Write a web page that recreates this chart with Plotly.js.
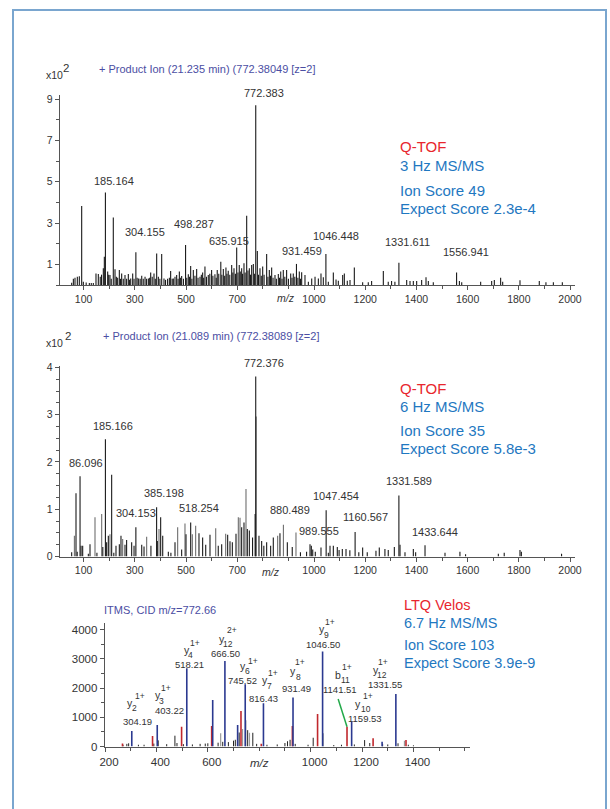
<!DOCTYPE html>
<html>
<head>
<meta charset="utf-8">
<script src="https://cdn.plot.ly/plotly-3.0.1.min.js"></script>
<style>html,body{margin:0;padding:0;background:#fff}#chart{width:610px;height:809px}</style>
</head>
<body>
<div id="chart"></div>
<script>
// ---------------- DATA ----------------
// Panel 1: Q-TOF 3 Hz (intensity x10^2)
const qtof3Mz = [53.4,60,66.4,75.5,83.3,92.5,99,122.4,138,148.4,157.5,177,181,185.164,194,203,216,222.7,239.6,248.7,261.7,274.7,284,291.7,304.155,315,327,340,353,362,375,385.4,405,414,440,450.5,463.5,474,483,498.287,509,518.2,528.6,541.6,554.7,565,574,587,600,613,622,635.915,645.8,656,665,678.4,687.5,698,708,717.4,726.5,737,747.4,756.5,763,772.383,778.6,789,799.5,815,825.5,834.6,847.6,860.6,870,880,893,909,919,931.459,942.6,951.8,964.8,978,991,1004,1017,1027.3,1036.4,1046.448,1056,1075.5,1086,1095,1112,1118.5,1130,1140.6,1157.5,1190,1212,1225,1270.8,1290,1303,1316,1331.611,1362,1375,1388,1401,1420.5,1437.5,1446.6,1466,1556.941,1568,1577,1651,1694,1704.4,1729,1737,1804.6,1880,1906,1935,1970,
  110,130,165,170,198,208,228,233,244,255,268,279,297,309,321,333,346,358,368,380,392,398,420,428,435,446,457,469,478,490,503,514,523,535,547,560,569,580,593,605,618,628,640,651,660,671,683,693,703,712,721,731,742,752,768,783,794,805,820,830,840,853,865,875,886,900,914,925,937,947];
const qtof3Int = [0.11,0.3,0.35,0.4,0.42,3.82,0.16,0.1,0.1,0.56,0.53,0.81,1.37,4.48,0.65,0.48,3.27,0.76,0.73,0.56,0.48,0.53,0.32,0.56,1.58,0.32,0.45,0.4,0.32,0.6,0.56,1.53,1.5,0.32,0.68,0.32,0.48,0.65,0.44,1.94,0.52,0.92,0.73,0.77,0.4,0.6,0.89,0.48,0.73,0.52,0.73,1.13,0.77,0.85,0.69,0.97,0.81,1.82,0.97,0.81,1.05,3.35,0.81,0.97,1.02,8.7,1.65,0.81,0.89,1.5,0.73,0.85,0.48,0.53,0.65,0.73,0.73,0.56,0.56,1.02,0.65,0.62,0.48,0.16,0.32,0.4,0.32,0.56,0.37,1.5,0.16,0.61,0.27,0.2,0.48,0.56,0.2,0.24,0.85,0.13,0.13,0.19,0.68,0.16,0.19,0.16,1.08,0.24,0.19,0.19,0.19,0.24,0.37,0.19,0.13,0.61,0.19,0.13,0.16,0.19,0.24,0.35,0.16,0.23,0.19,0.13,0.13,0.13,
  0.12,0.1,0.4,0.5,0.5,0.3,0.4,0.35,0.3,0.3,0.3,0.25,0.3,0.35,0.3,0.3,0.3,0.35,0.4,0.3,0.4,0.3,0.25,0.3,0.35,0.3,0.4,0.3,0.35,0.3,0.35,0.4,0.3,0.45,0.35,0.5,0.35,0.4,0.55,0.45,0.35,0.55,0.5,0.45,0.55,0.5,0.6,0.55,0.6,0.65,0.55,0.6,0.7,0.5,0.55,0.5,0.45,0.5,0.4,0.45,0.35,0.3,0.35,0.3,0.4,0.3,0.35,0.4,0.35,0.3];
const qtof3LabelMz = [185.164,304.155,498.287,635.915,772.383,931.459,1046.448,1331.611,1556.941];
const qtof3LabelText = ['185.164','304.155','498.287','635.915','772.383','931.459','1046.448','1331.611','1556.941'];

// Panel 2: Q-TOF 6 Hz (intensity x10^2), dark and light peaks
const qtof6Mz = [53.4,70.3,75,86.096,90,96.4,118.5,125,152,175,185.166,190,196.6,209.6,218,226.5,239.6,246,261.7,268,287.7,297,304.153,327,336,363,385.198,388,401,409,431,441,457,483,500,518.254,550.7,565,577,593.7,626,639.3,662.7,671.8,681,695.3,717.4,726.5,739.5,747.4,760,770,772.376,785,795.5,804,815,830.6,841,867,895.8,915,947,971,984.4,989.555,995,1005,1027.3,1047.454,1056,1062.5,1075.5,1091,1098,1110.6,1125,1140,1160.567,1175,1190,1208,1242,1255,1277,1290,1313.8,1331.589,1336,1355.4,1388,1397,1433.644,1511.7,1570,1592,1720,1743,1804.6,1810,1967];
const qtof6Int = [0.09,1.34,0.1,1.7,0.23,0.23,0.06,0.26,0.08,0.2,2.48,0.3,0.44,1.73,0.08,0.23,0.26,0.44,0.25,0.35,0.3,0.23,0.62,0.25,0.21,0.23,1.04,0.33,0.83,0.44,0.1,0.08,0.3,0.15,0.47,0.72,0.49,0.4,0.25,0.46,0.23,0.26,0.46,0.32,0.3,0.48,0.62,0.72,0.58,0.55,0.4,0.9,3.81,0.44,0.33,0.23,0.3,0.23,0.4,0.49,0.3,0.2,0.09,0.1,0.26,0.23,0.15,0.1,0.19,0.98,0.08,0.23,0.23,0.2,0.14,0.16,0.16,0.13,0.52,0.09,0.19,0.09,0.12,0.19,0.16,0.14,0.2,1.29,0.25,0.09,0.16,0.09,0.24,0.08,0.1,0.05,0.06,0.08,0.14,0.1,0.06];
const qtof6GrayMz = [64,144.5,170.6,203,252.6,346.3,394.5,467.4,496,524.7,537.7,616,655,704.4,711,734.3,774,858,880.489,929.6];
const qtof6GrayInt = [0.44,0.83,0.9,0.47,0.37,0.42,0.58,0.62,0.7,0.47,0.65,0.6,0.48,0.83,0.82,1.43,2.96,0.44,0.67,0.51];
const qtof6LabelMz = [86.096,185.166,304.153,385.198,518.254,772.376,880.489,989.555,1047.454,1160.567,1331.589,1433.644];
const qtof6LabelText = ['86.096','185.166','304.153','385.198','518.254','772.376','880.489','989.555','1047.454','1160.567','1331.589','1433.644'];

// Panel 3: LTQ Velos (ITMS)
const ltqBlueMz = [304.19,403.22,518.21,619,666.50,716,745.52,816.43,931.49,1046.50,1159.53,1278,1331.55];
const ltqBlueInt = [530,740,2680,1590,2930,740,2130,1480,1680,3250,850,165,1800];
const ltqRedMz = [268,385,498,615,729,808,929,1027,1141.51,1243,1371];
const ltqRedInt = [100,360,680,700,1215,90,700,1110,680,280,220];
const ltqBlackMz = [270,285,292,330,352,390,407,440,472,480,505,540,570,590,600,640,658,680,700,707,722,755,775,790,830,870,900,910,920,940,990,1010,1090,1120,1170,1210,1230,1280,1300,1340,1380,1400];
const ltqBlackInt = [60,90,110,60,60,100,210,80,370,120,80,70,90,100,110,130,160,150,200,230,480,560,470,90,60,70,120,180,230,90,60,300,50,60,70,220,120,90,70,110,60,40];
const ltqGrayMz = [650,735,748,762,1049,1365];
const ltqGrayInt = [450,600,900,470,450,200];
const ionMz = [304.19,403.22,518.21,666.50,745.52,816.43,931.49,1046.50,1141.51,1159.53,1331.55];
const ionSeries = ['y','y','y','y','y','y','y','y','b','y','y'];
const ionIndex = ['2','3','4','12','6','7','8','9','11','10','12'];
const ionCharge = ['1+','1+','1+','2+','1+','1+','1+','1+','1+','1+','1+'];
const ionMassText = ['304.19','403.22','518.21','666.50','745.52','816.43','931.49','1046.50','1141.51','1159.53','1331.55'];

const xTicks12 = [100,300,500,700,1000,1200,1400,1600,1800,2000];
const yTicks1 = [1,3,5,7,9];
const yTicks2 = [0,1,2,3,4];
const xTicks3 = [200,400,600,1000,1200,1400];
const yTicks3 = [0,1000,2000,3000,4000];

// ---------------- LAYOUT HELPERS ----------------
const W = 610, H = 809;
const FONT = 'Liberation Sans, Arial, sans-serif';
const px = x => x / W;
const py = y => (H - y) / H;

function sticks(mz, inten, xa, ya, color, width) {
  const x = [], y = [];
  for (let i = 0; i < mz.length; i++) { x.push(mz[i], mz[i], null); y.push(0, inten[i], null); }
  return {type:'scatter', mode:'lines', x, y, xaxis:xa, yaxis:ya, line:{color, width}, hoverinfo:'skip', showlegend:false};
}

const traces = [
  sticks(qtof3Mz, qtof3Int, 'x', 'y', '#1a1a1a', 1.1),
  sticks(qtof6GrayMz, qtof6GrayInt, 'x2', 'y2', '#6e6e6e', 1.1),
  sticks(qtof6Mz, qtof6Int, 'x2', 'y2', '#1a1a1a', 1.1),
  sticks(ltqBlackMz, ltqBlackInt, 'x3', 'y3', '#222222', 1),
  sticks(ltqGrayMz, ltqGrayInt, 'x3', 'y3', '#9a9a9a', 1.2),
  sticks(ltqRedMz, ltqRedInt, 'x3', 'y3', '#c0282d', 1.6),
  sticks(ltqBlueMz, ltqBlueInt, 'x3', 'y3', '#2b3990', 1.6)
];

const axCol = '#555555';
function xAxis(domain, range, tickvals, size, anchor, shift) {
  return {domain, range, anchor, tickmode:'array', tickvals, ticktext:tickvals.map(String),
    ticks:'outside', ticklen:4, tickcolor:axCol, tickwidth:1, showline:true, linecolor:axCol, linewidth:1.3,
    showgrid:false, zeroline:false, fixedrange:true, ticklabelshift:shift || 0,
    tickfont:{family:FONT, size, color:'#333'},
    minor:{tickmode:'linear', tick0:0, dtick:100, ticks:'outside', ticklen:3, tickcolor:axCol}};
}
function yAxis(domain, range, tickvals, minorD, size, anchor) {
  return {domain, range, anchor, tickmode:'array', tickvals, ticktext:tickvals.map(String),
    ticks:'outside', ticklen:4, tickcolor:axCol, tickwidth:1, showline:true, linecolor:axCol, linewidth:1.3,
    showgrid:false, zeroline:false, fixedrange:true,
    tickfont:{family:FONT, size, color:'#333'},
    minor:{tickmode:'linear', tick0:0, dtick:minorD, ticks:'outside', ticklen:2.5, tickcolor:axCol}};
}

const annotations = [];
function txt(text, x, y, size, color, opts) {
  annotations.push(Object.assign({text, x:px(x), y:py(y), xref:'paper', yref:'paper', xanchor:'center', yanchor:'middle',
    showarrow:false, font:{family:FONT, size, color}}, opts || {}));
}
function peakLabel(text, mz, xref, yPx, xshift) {
  annotations.push({text, x:mz, xref, y:py(yPx), yref:'paper', xanchor:'center', yanchor:'middle', xshift,
    showarrow:false, font:{family:FONT, size:11, color:'#333'}});
}

const titleCol = '#4b4ea3';
const red = '#e8262e', blue = '#1f78c1';

// Panel 1 texts
txt('+ Product Ion (21.235 min) (772.38049 [z=2]', 97, 69, 11, titleCol, {xanchor:'left'});
txt('x10', 44, 75, 10.5, '#333', {xanchor:'left'});
txt('2', 66, 68.5, 11.5, '#333');
const p1LabelY = [181, 231.7, 224, 240.7, 93.3, 250.7, 235.7, 242.3, 252.3];
const p1LabelShift = [8.8, 8.8, 8, 8, 8, 6, 10, 8.5, 9];
qtof3LabelMz.forEach((m, i) => peakLabel(qtof3LabelText[i], m, 'x', p1LabelY[i], p1LabelShift[i]));
txt('<i>m/z</i>', 285.7, 297.5, 10.5, '#333');
txt('Q-TOF', 398, 147, 15, red, {xanchor:'left'});
txt('3 Hz MS/MS', 398, 165.5, 15, blue, {xanchor:'left'});
txt('Ion Score 49', 398, 190.5, 15, blue, {xanchor:'left'});
txt('Expect Score 2.3e-4', 398, 208.5, 15, blue, {xanchor:'left'});

// Panel 2 texts
txt('+ Product Ion (21.089 min) (772.38089 [z=2]', 101, 335.7, 11, titleCol, {xanchor:'left'});
txt('x10', 44, 342.7, 10.5, '#333', {xanchor:'left'});
txt('2', 68, 336, 11.5, '#333');
const p2LabelY = [463.3, 426, 513.3, 492.7, 508.3, 363.3, 510, 531, 495.7, 516.7, 481, 531.7];
const p2LabelShift = [6, 7.5, 0.5, 7.5, 8, 8, 7, 7.5, 10, 10, 10, 10];
qtof6LabelMz.forEach((m, i) => peakLabel(qtof6LabelText[i], m, 'x2', p2LabelY[i], p2LabelShift[i]));
txt('<i>m/z</i>', 270.5, 572, 10.5, '#333');
txt('Q-TOF', 398, 388, 15, red, {xanchor:'left'});
txt('6 Hz MS/MS', 398, 406.7, 15, blue, {xanchor:'left'});
txt('Ion Score 35', 398, 430, 15, blue, {xanchor:'left'});
txt('Expect Score 5.8e-3', 398, 448.3, 15, blue, {xanchor:'left'});

// Panel 3 texts
txt('ITMS, CID m/z=772.66', 160, 609.5, 11, titleCol);
txt('<i>m/z</i>', 259, 762.5, 11.5, '#333');
txt('LTQ Velos', 402, 605, 14.5, red, {xanchor:'left'});
txt('6.7 Hz MS/MS', 402, 623.3, 14.5, blue, {xanchor:'left'});
txt('Ion Score 103', 402, 645, 14.5, blue, {xanchor:'left'});
txt('Expect Score 3.9e-9', 402, 663.3, 14.5, blue, {xanchor:'left'});
// ion label placements (px): letter, index (subscript), charge (superscript), mass
const ionPos = [
  [[130,702.5],[134.3,708.3],[139.5,696],[137.3,721.7]],
  [[158.3,695],[161.8,700.5],[166,687.5],[169.3,710]],
  [[186.7,649.5],[190,655],[195,642.5],[189.3,664]],
  [[221.7,638.5],[227.5,644],[231.7,630],[225,653]],
  [[243.3,665.5],[247,671],[253.3,660.5],[242.7,680]],
  [[265,679.5],[269.3,686],[273.3,673],[263.3,698.5]],
  [[293.3,671],[298.5,676.8],[300,662.2],[296,688.5]],
  [[321.7,628.8],[326.5,634.5],[330,621.8],[322.7,644.5]],
  [[338.3,674.5],[345,680],[346.7,666.8],[340,689.5]],
  [[358.3,703.5],[365.5,708.6],[367.7,695.5],[365,718.8]],
  [[376,669.5],[382,675.2],[382.7,662.2],[385,684.5]]
];
ionMz.forEach((m, i) => {
  const p = ionPos[i];
  txt(ionSeries[i], p[0][0], p[0][1], 10.5, '#333');
  txt(ionIndex[i], p[1][0], p[1][1], 8.5, '#333');
  txt(ionCharge[i], p[2][0], p[2][1], 8.5, '#333');
  txt(ionMassText[i], p[3][0], p[3][1], 9.5, '#333');
});

const shapes = [
  {type:'rect', xref:'paper', yref:'paper', x0:px(13), x1:px(606), y0:-0.02, y1:py(10), line:{color:'#7aa6cf', width:2}, fillcolor:'rgba(0,0,0,0)'},
  {type:'line', xref:'x3', yref:'y3', x0:1107, y0:1630, x1:ionMz[8], y1:ltqRedInt[8], line:{color:'#23a94a', width:1.5}}
];

const layout = {
  width:W, height:H, margin:{l:0,r:0,t:0,b:0}, paper_bgcolor:'#ffffff', plot_bgcolor:'rgba(0,0,0,0)',
  showlegend:false, font:{family:FONT, color:'#333'},
  xaxis: xAxis([px(60), px(575)], [7.8, 2019.5], xTicks12, 10.5, 'y'),
  yaxis: yAxis([py(285), py(95)], [0, 9.2], yTicks1, 1, 10.5, 'x'),
  xaxis2: xAxis([px(60), px(575)], [7.8, 2019.5], xTicks12, 10.5, 'y2'),
  yaxis2: yAxis([py(556.5), py(366)], [0, 4.03], yTicks2, 0.25, 10.5, 'x2'),
  xaxis3: xAxis([px(105), px(470)], [200, 1620], xTicks3, 11.5, 'y3', 4),
  yaxis3: yAxis([py(746.5), py(623)], [0, 4230], yTicks3, 500, 11.5, 'x3'),
  annotations, shapes
};

Plotly.newPlot('chart', traces, layout, {staticPlot:true, displayModeBar:false});
</script>
</body>
</html>
